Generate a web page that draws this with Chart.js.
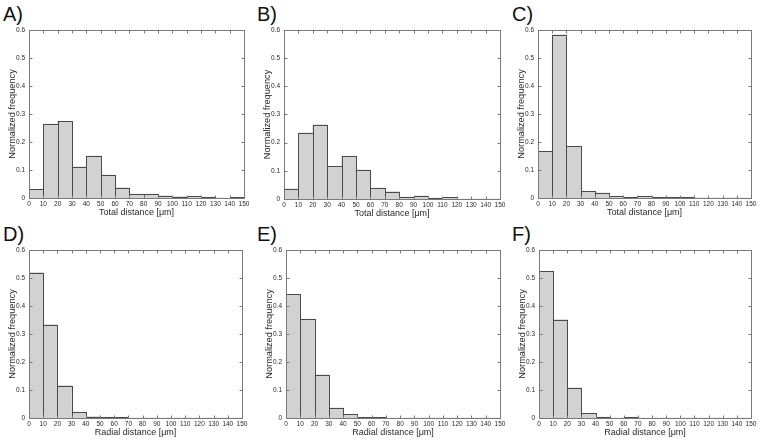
<!DOCTYPE html>
<html>
<head>
<meta charset="utf-8">
<script src="https://cdn.jsdelivr.net/npm/chart.js@4.4.1/dist/chart.umd.min.js"></script>
<style>
  body { margin: 0; background: #fff; width: 760px; height: 441px; position: relative; overflow: hidden; font-family: "Liberation Sans", Arial, sans-serif; }
  .panel-label { position: absolute; font-size: 20px; line-height: 1; color: #111; }
  canvas { position: absolute; }
</style>
</head>
<body>
<div class="panel-label" style="left:3px;top:4px">A)</div>
<div class="panel-label" style="left:257px;top:4px">B)</div>
<div class="panel-label" style="left:512px;top:4px">C)</div>
<div class="panel-label" style="left:3px;top:224px">D)</div>
<div class="panel-label" style="left:257px;top:224px">E)</div>
<div class="panel-label" style="left:512px;top:224px">F)</div>

<canvas id="chartA" width="252" height="198" style="left:0px;top:22px"></canvas>
<canvas id="chartB" width="253" height="199" style="left:255px;top:22px"></canvas>
<canvas id="chartC" width="250" height="198" style="left:509px;top:22px"></canvas>
<canvas id="chartD" width="250" height="198" style="left:0px;top:242px"></canvas>
<canvas id="chartE" width="251" height="198" style="left:257px;top:242px"></canvas>
<canvas id="chartF" width="249" height="198" style="left:510px;top:242px"></canvas>

<script>
// --- data ---
const binCenters = [5, 15, 25, 35, 45, 55, 65, 75, 85, 95, 105, 115, 125, 135, 145];
const xTicks = [0, 10, 20, 30, 40, 50, 60, 70, 80, 90, 100, 110, 120, 130, 140, 150];
const yTickLabels = ['0', '0.1', '0.2', '0.3', '0.4', '0.5', '0.6'];

const totalA = [0.031, 0.264, 0.274, 0.111, 0.150, 0.082, 0.037, 0.014, 0.014, 0.008, 0.005, 0.006, 0.003, 0, 0.002];
const totalB = [0.036, 0.235, 0.263, 0.116, 0.152, 0.103, 0.039, 0.026, 0.007, 0.011, 0.003, 0.006, 0, 0, 0];
const totalC = [0.166, 0.582, 0.184, 0.024, 0.018, 0.006, 0.002, 0.006, 0.002, 0.002, 0.002, 0, 0, 0, 0];
const radialD = [0.519, 0.333, 0.116, 0.021, 0.005, 0.003, 0.002, 0, 0, 0, 0, 0, 0, 0, 0];
const radialE = [0.441, 0.353, 0.154, 0.036, 0.013, 0.002, 0.002, 0, 0, 0, 0, 0, 0, 0, 0];
const radialF = [0.523, 0.351, 0.108, 0.017, 0.003, 0, 0.002, 0, 0, 0, 0, 0, 0, 0, 0];

const TOTAL_LABEL = 'Total distance [μm]';
const RADIAL_LABEL = 'Radial distance [μm]';

const boxColor = '#7a7a7a';
const textColor = '#2a2a2a';
const FONT = '"Liberation Sans", Arial, sans-serif';

// outlines bars with shared 1px edges, then draws the axes box with inward ticks
const matlabBox = {
    id: 'matlabBox',
    afterDatasetsDraw(chart) {
        const ctx = chart.ctx;
        const area = chart.chartArea;
        const xs = chart.scales.x;
        const ys = chart.scales.y;

        ctx.save();
        ctx.strokeStyle = '#4a4a4a';
        ctx.lineWidth = 1;
        chart.getDatasetMeta(0).data.forEach(bar => {
            if (Math.abs(bar.base - bar.y) < 0.01) return;
            const l = Math.round(bar.x - bar.width / 2) + 0.5;
            const r = Math.round(bar.x + bar.width / 2) + 0.5;
            const t = Math.round(bar.y) + 0.5;
            const b = Math.round(bar.base) + 0.5;
            ctx.strokeRect(l, t, r - l, b - t);
        });

        ctx.strokeStyle = boxColor;
        const L = Math.round(area.left) + 0.5, R = Math.round(area.right) + 0.5;
        const T = Math.round(area.top) + 0.5, B = Math.round(area.bottom) + 0.5;
        ctx.strokeRect(L, T, R - L, B - T);
        const tl = 3;
        ctx.beginPath();
        xTicks.forEach(v => {
            const px = Math.round(xs.getPixelForValue(v)) + 0.5;
            ctx.moveTo(px, B); ctx.lineTo(px, B - tl);
            ctx.moveTo(px, T); ctx.lineTo(px, T + tl);
        });
        yTickLabels.forEach((lab, i) => {
            const py = Math.round(ys.getPixelForValue(i / 10)) + 0.5;
            ctx.moveTo(L, py); ctx.lineTo(L + tl, py);
            ctx.moveTo(R, py); ctx.lineTo(R - tl, py);
        });
        ctx.stroke();
        ctx.restore();
    }
};

function makeHist(id, values, xLabel) {
    new Chart(document.getElementById(id), {
        type: 'bar',
        data: {
            datasets: [{
                data: binCenters.map((x, i) => ({ x: x, y: values[i] })),
                backgroundColor: '#d2d2d2',
                borderWidth: 0,
                barPercentage: 1,
                categoryPercentage: 1
            }]
        },
        options: {
            responsive: false,
            animation: false,
            devicePixelRatio: 1,
            layout: { padding: { left: 0, top: 7, right: 8, bottom: 0 } },
            plugins: { legend: { display: false }, tooltip: { enabled: false } },
            scales: {
                x: {
                    type: 'linear',
                    min: 0, max: 150,
                    offset: false,
                    grid: { display: false, drawTicks: false },
                    border: { display: false },
                    afterBuildTicks: s => { s.ticks = xTicks.map(v => ({ value: v })); },
                    ticks: { autoSkip: false, maxRotation: 0, padding: 2, color: textColor, font: { size: 6.5, family: FONT } },
                    title: { display: true, text: xLabel, color: textColor, padding: { top: 0, bottom: 2 }, font: { size: 9, family: FONT } },
                    afterFit: s => { s.height = 22; }
                },
                y: {
                    min: 0, max: 0.6,
                    grid: { display: false, drawTicks: false },
                    border: { display: false },
                    ticks: { stepSize: 0.1, padding: 4, color: textColor, font: { size: 6.5, family: FONT },
                             callback: (v, i) => yTickLabels[i] },
                    title: { display: true, text: 'Normalized frequency', color: textColor, padding: { top: 7, bottom: 0 }, font: { size: 9.2, family: FONT } },
                    afterFit: s => { s.width = 29; }
                }
            }
        },
        plugins: [matlabBox]
    });
}

makeHist('chartA', totalA, TOTAL_LABEL);
makeHist('chartB', totalB, TOTAL_LABEL);
makeHist('chartC', totalC, TOTAL_LABEL);
makeHist('chartD', radialD, RADIAL_LABEL);
makeHist('chartE', radialE, RADIAL_LABEL);
makeHist('chartF', radialF, RADIAL_LABEL);
</script>
</body>
</html>
